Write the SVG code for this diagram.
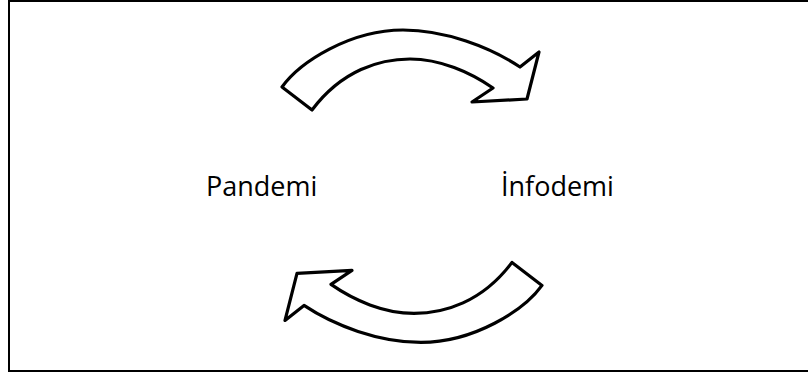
<svg xmlns="http://www.w3.org/2000/svg" xmlns:xlink="http://www.w3.org/1999/xlink" width="808" height="376" viewBox="0 0 808 376">
  <style>
    .frame { fill: #ffffff; stroke: #000000; stroke-width: 2; }
    .arrow { fill: #ffffff; stroke: #000000; stroke-width: 3.2; stroke-linejoin: round; }
    .label { font-family: "Open Sans", "Noto Sans", "Liberation Sans", sans-serif; font-size: 27px; fill: #000000; }
  </style>
  <defs>
    <path id="curved-arrow" d="M282,87 C300,62 350,30 403,30 C445,30 490,47 520,67 L539,52 L527,99 L472,102 L493,88 C470,72 440,59 410,59 C380,59 342,70 312,110 Z"/>
  </defs>
  <rect class="frame" x="9" y="1" width="805" height="370"/>
  <g id="connectors">
    <use id="arrow-top" class="arrow" xlink:href="#curved-arrow" href="#curved-arrow"/>
    <use id="arrow-bottom" class="arrow" xlink:href="#curved-arrow" href="#curved-arrow" transform="rotate(180 412 186.2)"/>
  </g>
  <g id="pandemi">
    <text class="label" x="206" y="196">Pandemi</text>
  </g>
  <g id="infodemi">
    <text class="label" x="501" y="196">İnfodemi</text>
  </g>
</svg>
